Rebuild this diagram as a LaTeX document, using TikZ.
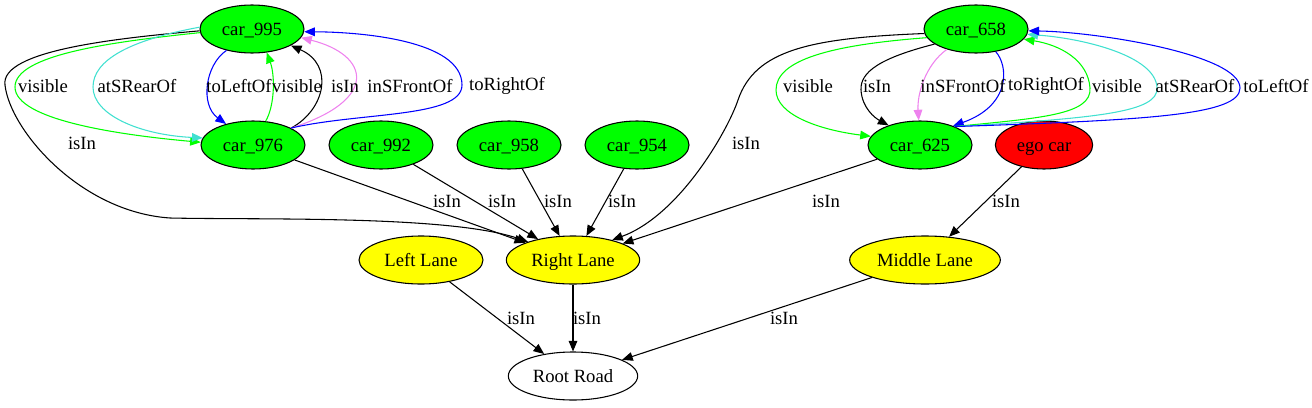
\documentclass[tikz,border=0pt]{standalone}
\usepackage{fontspec}
\setmainfont{Liberation Serif}
\usetikzlibrary{arrows.meta,shapes.geometric}
\definecolor{gvgreen}{HTML}{00FF00}
\definecolor{gvred}{HTML}{FF0000}
\definecolor{gvyellow}{HTML}{FFFF00}
\definecolor{gvturq}{HTML}{40E0D0}
\definecolor{gvviolet}{HTML}{EE82EE}
\definecolor{gvblue}{HTML}{0000FF}
\tikzset{
  obj/.style={ellipse, draw, line width=0.8pt, inner sep=0pt, minimum height=36pt, text height=9.5pt, text depth=0.3pt, font=\fontsize{14pt}{16pt}\selectfont},
  car/.style={obj, fill=gvgreen, minimum width=78pt},
  lane/.style={obj, fill=gvyellow},
  lbl/.style={inner sep=0pt, font=\fontsize{14pt}{16pt}\selectfont},
  rel/.style={->, line width=0.8pt},
  >={Triangle[length=8pt,width=6.5pt]}
}
\begin{document}
\begin{tikzpicture}[x=0.75pt,y=-0.75pt]
    \useasboundingbox (0,0) rectangle (1312,407);
    % nodes
    \node[car] (c995) at (252,29) {car\_995};
    \node[car] (c976) at (253,145) {car\_976};
    \node[car] (c992) at (381,145) {car\_992};
    \node[car] (c958) at (509,145) {car\_958};
    \node[car] (c954) at (637,145) {car\_954};
    \node[car] (c658) at (976,29) {car\_658};
    \node[car] (c625) at (920,145) {car\_625};
    \node[obj, fill=gvred, minimum width=73pt] (ego) at (1044,145) {ego car};
    \node[lane, minimum width=93pt] (ll) at (421,260) {Left Lane};
    \node[lane, minimum width=100pt] (rl) at (573,260) {Right Lane};
    \node[lane, minimum width=113pt] (ml) at (925,260) {Middle Lane};
    \node[obj, minimum width=97pt] (root) at (573,376) {Root Road};
    % left group
    \draw[rel] (c995.182) .. controls (120,38) and (0,50) .. (5,85) .. controls (10,130) and (80,212) .. (170,218) .. controls (260,220) and (450,215) .. (rl.158);
    \draw[rel, gvgreen] (c995.184) .. controls (110,42) and (15,55) .. (15,87) .. controls (15,120) and (120,135) .. (c976.177);
    \draw[rel, gvturq] (c995.178) .. controls (130,40) and (93,60) .. (93,87) .. controls (93,115) and (140,135) .. (c976.172);
    \draw[rel, gvblue] (c995.220) .. controls (205,65) and (200,105) .. (c976.142);
    \draw[rel, gvgreen] (c976.62) .. controls (275,105) and (275,75) .. (c995.-58);
    \draw[rel] (c976.24) .. controls (325,110) and (335,65) .. (c995.-23);
    \draw[rel, gvviolet] (c976.24) .. controls (380,100) and (370,55) .. (c995.-10);
    \draw[rel, gvblue] (c976.24) .. controls (360,112) and (462,118) .. (462,85) .. controls (462,40) and (360,32) .. (c995.-3);
    \node[lbl] (l1) at (43,86) {visible};
    \node[lbl] (l2) at (137,86) {atSRearOf};
    \node[lbl] (l3) at (239,86) {toLeftOf};
    \node[lbl] (l4) at (297,86) {visible};
    \node[lbl] (l5) at (345,86) {isIn};
    \node[lbl] (l6) at (410,86) {inSFrontOf};
    \node[lbl] (l7) at (507,86) {toRightOf};
    \node[lbl] (l8) at (82,143) {isIn};
    % right group
    \draw[rel] (c658.185) .. controls (810,38) and (755,50) .. (738,100) .. controls (728,130) and (680,215) .. (rl.27);
    \draw[rel, gvgreen] (c658.190) .. controls (830,45) and (776,60) .. (776,90) .. controls (776,115) and (820,130) .. (c625.170);
    \draw[rel] (c658.200) .. controls (880,58) and (860,72) .. (861,90) .. controls (862,108) and (875,118) .. (c625.148);
    \draw[rel, gvviolet] (c658.215) .. controls (925,65) and (917,95) .. (c625.93);
    \draw[rel, gvblue] (c658.-49) .. controls (1008,65) and (1012,105) .. (c625.30);
    \draw[rel, gvgreen] (c625.28) .. controls (1040,118) and (1092,115) .. (1090,88) .. controls (1088,60) and (1060,45) .. (c658.-12);
    \draw[rel, gvturq] (c625.28) .. controls (1100,118) and (1158,112) .. (1157,88) .. controls (1156,55) and (1080,38) .. (c658.-6);
    \draw[rel, gvblue] (c625.28) .. controls (1150,120) and (1240,115) .. (1240,88) .. controls (1240,55) and (1100,32) .. (c658.-2);
    \node[lbl] (r1) at (808,86) {visible};
    \node[lbl] (r2) at (877,86) {isIn};
    \node[lbl] (r3) at (963,86) {inSFrontOf};
    \node[lbl] (r4) at (1046,86) {toRightOf};
    \node[lbl] (r5) at (1117,86) {visible};
    \node[lbl] (r6) at (1195,86) {atSRearOf};
    \node[lbl] (r7) at (1276,86) {toLeftOf};
    \node[lbl] (r8) at (746,143) {isIn};
    % lanes
    \draw[rel] (c976) -- (rl);
    \draw[rel] (c992) -- (rl);
    \draw[rel] (c958) -- (rl);
    \draw[rel] (c954) -- (rl);
    \draw[rel] (c625) -- (rl);
    \draw[rel] (ego) -- (ml);
    \draw[rel] (ll) -- (root);
    \draw[rel] (rl) -- (root);
    \draw[rel] (ml) -- (root);
    \node[lbl] (m1) at (447,201) {isIn};
    \node[lbl] (m2) at (502,201) {isIn};
    \node[lbl] (m3) at (558,201) {isIn};
    \node[lbl] (m4) at (622,201) {isIn};
    \node[lbl] (m5) at (826,201) {isIn};
    \node[lbl] (m6) at (1006,201) {isIn};
    \node[lbl] (m7) at (521,318) {isIn};
    \node[lbl] (m8) at (587,318) {isIn};
    \node[lbl] (m9) at (784,318) {isIn};
\end{tikzpicture}
\end{document}
